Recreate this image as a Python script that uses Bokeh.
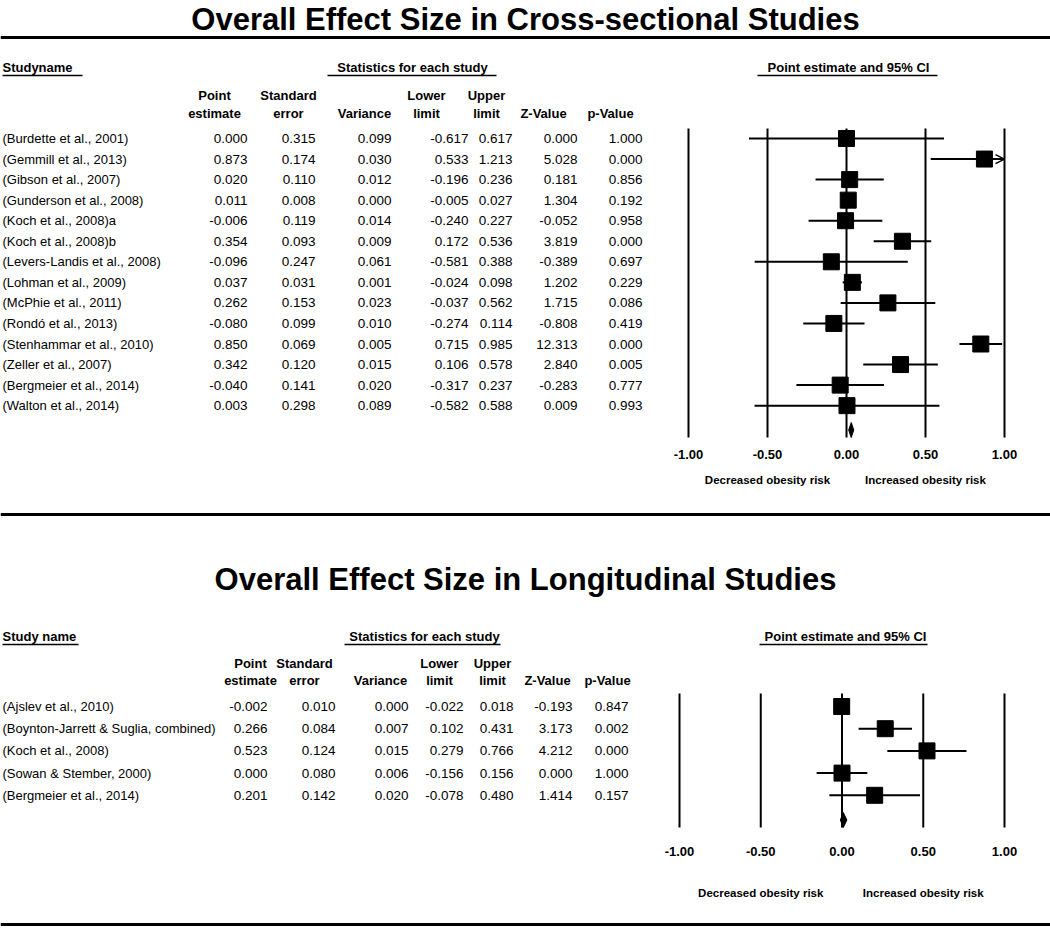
import numpy as np
from bokeh.plotting import figure
from bokeh.models import Range1d, ColumnDataSource, Arrow, OpenHead
from bokeh.core.properties import value
from bokeh.embed import file_html
from bokeh.resources import INLINE

# ---------------- data ----------------
title1 = "Overall Effect Size in Cross-sectional Studies"
title2 = "Overall Effect Size in Longitudinal Studies"

names1 = ["(Burdette et al., 2001)", "(Gemmill et al., 2013)", "(Gibson et al., 2007)",
          "(Gunderson et al., 2008)", "(Koch et al., 2008)a", "(Koch et al., 2008)b",
          "(Levers-Landis et al., 2008)", "(Lohman et al., 2009)", "(McPhie et al., 2011)",
          "(Rondó et al., 2013)", "(Stenhammar et al., 2010)", "(Zeller et al., 2007)",
          "(Bergmeier et al., 2014)", "(Walton et al., 2014)"]
pe1 = [0.000, 0.873, 0.020, 0.011, -0.006, 0.354, -0.096, 0.037, 0.262, -0.080, 0.850, 0.342, -0.040, 0.003]
se1 = [0.315, 0.174, 0.110, 0.008, 0.119, 0.093, 0.247, 0.031, 0.153, 0.099, 0.069, 0.120, 0.141, 0.298]
var1 = [0.099, 0.030, 0.012, 0.000, 0.014, 0.009, 0.061, 0.001, 0.023, 0.010, 0.005, 0.015, 0.020, 0.089]
lo1 = [-0.617, 0.533, -0.196, -0.005, -0.240, 0.172, -0.581, -0.024, -0.037, -0.274, 0.715, 0.106, -0.317, -0.582]
hi1 = [0.617, 1.213, 0.236, 0.027, 0.227, 0.536, 0.388, 0.098, 0.562, 0.114, 0.985, 0.578, 0.237, 0.588]
z1 = [0.000, 5.028, 0.181, 1.304, -0.052, 3.819, -0.389, 1.202, 1.715, -0.808, 12.313, 2.840, -0.283, 0.009]
p1 = [1.000, 0.000, 0.856, 0.192, 0.958, 0.000, 0.697, 0.229, 0.086, 0.419, 0.000, 0.005, 0.777, 0.993]
summary1 = (0.014, 0.030, 0.046)   # lower, point, upper of pooled effect

names2 = ["(Ajslev et al., 2010)", "(Boynton-Jarrett & Suglia, combined)", "(Koch et al., 2008)",
          "(Sowan & Stember, 2000)", "(Bergmeier et al., 2014)"]
pe2 = [-0.002, 0.266, 0.523, 0.000, 0.201]
se2 = [0.010, 0.084, 0.124, 0.080, 0.142]
var2 = [0.000, 0.007, 0.015, 0.006, 0.020]
lo2 = [-0.022, 0.102, 0.279, -0.156, -0.078]
hi2 = [0.018, 0.431, 0.766, 0.156, 0.480]
z2 = [-0.193, 3.173, 4.212, 0.000, 1.414]
p2 = [0.847, 0.002, 0.000, 1.000, 0.157]
summary2 = (-0.010, 0.008, 0.030)

ticks = [-1.0, -0.5, 0.0, 0.5, 1.0]
tick_labels = ["-1.00", "-0.50", "0.00", "0.50", "1.00"]
dir_labels = ["Decreased obesity risk", "Increased obesity risk"]
dir_pos = [-0.5, 0.5]
col_headers = [("Point", "estimate"), ("Standard", "error"), ("", "Variance"),
               ("Lower", "limit"), ("Upper", "limit"), ("", "Z-Value"), ("", "p-Value")]

# ---------------- layout ----------------
W, H = 1050, 938
X0, Y0 = 0, 0
FONT = value("Liberation Sans")

p = figure(width=W, height=H, output_backend="svg", toolbar_location=None,
           x_range=Range1d(X0, X0 + W), y_range=Range1d(Y0 + H, Y0),
           x_axis_location=None, y_axis_location=None, min_border=0)
p.grid.visible = False
p.outline_line_color = None
p.background_fill_color = "white"


def eff_range(px_m1, px_p1):
    ppu = (px_p1 - px_m1) / 2.0
    return Range1d(-1 - (px_m1 - X0) / ppu, 1 + (X0 + W - px_p1) / ppu)


def row_range(y_row0, dy):
    return Range1d((Y0 + H - y_row0) / dy, (Y0 - y_row0) / dy)


cfg = [
    dict(names=names1, cols=[pe1, se1, var1, lo1, hi1, z1, p1], pe=pe1, lo=lo1, hi=hi1, summ=summary1,
         title=title1, title_y=19, study_label="Studyname",
         fx=eff_range(688, 1004), row0=138, dy=20.55,
         right=[247, 315, 391, 468, 512, 577, 642], hcent=[214, 288, 364, 426, 486, 543, 610],
         hy=(95, 113), head_y=67, ul_y=75,
         study_ul=(2, 82), stat_ul=(327, 496), stat_c=412, ci_ul=(757, 937), ci_c=848,
         vtop=128, vbot=437, summ_y=429.5, tick_y=454, dir_y=479),
    dict(names=names2, cols=[pe2, se2, var2, lo2, hi2, z2, p2], pe=pe2, lo=lo2, hi=hi2, summ=summary2,
         title=title2, title_y=579, study_label="Study name",
         fx=eff_range(679, 1004), row0=706, dy=22.2,
         right=[267, 335, 408, 463, 513, 572, 628], hcent=[250, 304, 380, 439, 492, 547, 607],
         hy=(663, 680), head_y=636, ul_y=644,
         study_ul=(2, 78), stat_ul=(344, 500), stat_c=424, ci_ul=(759, 927), ci_c=845,
         vtop=693, vbot=827, summ_y=819.5, tick_y=851, dir_y=892),
]

p.extra_x_ranges = {"fx1": cfg[0]["fx"], "fx2": cfg[1]["fx"]}
p.extra_y_ranges = {"ry1": row_range(cfg[0]["row0"], cfg[0]["dy"]),
                    "ry2": row_range(cfg[1]["row0"], cfg[1]["dy"])}

# horizontal rules
p.segment(x0=[X0] * 3, x1=[X0 + W] * 3, y0=[37, 514, 924], y1=[37, 514, 924],
          line_color="black", line_width=3)

for k, c in enumerate(cfg):
    fx, ry = "fx%d" % (k + 1), "ry%d" % (k + 1)
    n = len(c["names"])
    rows = list(range(n))

    # title
    p.text(x=[X0 + W / 2], y=[c["title_y"]], text=[c["title"]], text_font=FONT, text_font_style="bold",
           text_font_size="31px", text_align="center", text_baseline="middle", text_color="black")

    # section headers + underlines
    p.text(x=[2], y=[c["head_y"]], text=[c["study_label"]], text_font=FONT, text_font_style="bold",
           text_font_size="13px", text_align="left", text_baseline="middle")
    p.text(x=[c["stat_c"], c["ci_c"]], y=[c["head_y"]] * 2,
           text=["Statistics for each study", "Point estimate and 95% CI"], text_font=FONT,
           text_font_style="bold", text_font_size="13px", text_align="center", text_baseline="middle")
    uls = [c["study_ul"], c["stat_ul"], c["ci_ul"]]
    p.segment(x0=[u[0] for u in uls], x1=[u[1] for u in uls], y0=[c["ul_y"]] * 3, y1=[c["ul_y"]] * 3,
              line_color="black", line_width=1.5)

    # column headers
    for (h1, h2), xc in zip(col_headers, c["hcent"]):
        p.text(x=[xc, xc], y=list(c["hy"]), text=[h1, h2], text_font=FONT, text_font_style="bold",
               text_font_size="13px", text_align="center", text_baseline="middle")

    # study names
    p.text(x=[2] * n, y=rows, text=c["names"], text_font=FONT, text_font_size="13px",
           text_align="left", text_baseline="middle", y_range_name=ry)
    # statistics
    for col, xr in zip(c["cols"], c["right"]):
        p.text(x=[xr] * n, y=rows, text=["%.3f" % v for v in col], text_font=FONT, text_font_size="13.5px",
               text_align="right", text_baseline="middle", y_range_name=ry)

    # forest: vertical reference lines
    r_top = (c["vtop"] - c["row0"]) / c["dy"]
    r_bot = (c["vbot"] - c["row0"]) / c["dy"]
    p.segment(x0=ticks, x1=ticks, y0=[r_top] * 5, y1=[r_bot] * 5, line_color="black", line_width=2,
              x_range_name=fx, y_range_name=ry)

    lo = np.array(c["lo"])
    hi = np.array(c["hi"])
    inside = (lo >= -1) & (hi <= 1)
    idx_in = [i for i in rows if inside[i]]
    p.segment(x0=[lo[i] for i in idx_in], x1=[hi[i] for i in idx_in], y0=idx_in, y1=idx_in,
              line_color="black", line_width=2, x_range_name=fx, y_range_name=ry)
    idx_hi = [i for i in rows if hi[i] > 1]
    if idx_hi:
        src = ColumnDataSource(dict(x0=[max(lo[i], -1) for i in idx_hi], x1=[1.0] * len(idx_hi), y=idx_hi))
        p.add_layout(Arrow(end=OpenHead(size=9, line_width=1.5), source=src, x_start="x0", x_end="x1",
                           y_start="y", y_end="y", line_width=2, x_range_name=fx, y_range_name=ry))
    idx_lo = [i for i in rows if lo[i] < -1]
    if idx_lo:
        src = ColumnDataSource(dict(x0=[min(hi[i], 1) for i in idx_lo], x1=[-1.0] * len(idx_lo), y=idx_lo))
        p.add_layout(Arrow(end=OpenHead(size=9, line_width=1.5), source=src, x_start="x0", x_end="x1",
                           y_start="y", y_end="y", line_width=2, x_range_name=fx, y_range_name=ry))

    # point estimates
    p.scatter(x=c["pe"], y=rows, marker="square", size=16, fill_color="black", line_color="black",
              x_range_name=fx, y_range_name=ry)

    # pooled diamond
    sl, sp, sh = c["summ"]
    sr = (c["summ_y"] - c["row0"]) / c["dy"]
    hh = 7.5 / c["dy"]
    p.patch(x=[sl, sp, sh, sp], y=[sr, sr - hh, sr, sr + hh], fill_color="black", line_color="black",
            x_range_name=fx, y_range_name=ry)

    # tick labels and direction labels
    p.text(x=ticks, y=[c["tick_y"]] * 5, text=tick_labels, text_font=FONT, text_font_style="bold",
           text_font_size="13px", text_align="center", text_baseline="middle", x_range_name=fx)
    p.text(x=dir_pos, y=[c["dir_y"]] * 2, text=dir_labels, text_font=FONT, text_font_style="bold",
           text_font_size="11.5px", text_align="center", text_baseline="middle", x_range_name=fx)

open("out.html", "w").write(file_html(p, INLINE))
